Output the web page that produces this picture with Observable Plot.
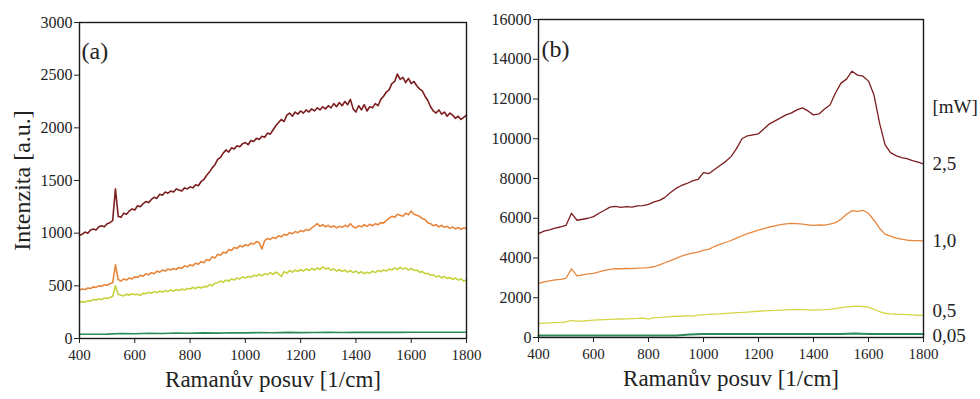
<!DOCTYPE html>
<html><head><meta charset="utf-8">
<script src="https://cdn.jsdelivr.net/npm/d3@7"></script>
<script src="https://cdn.jsdelivr.net/npm/@observablehq/plot@0.6"></script>
<style>
body{margin:0;background:#fff}
#wrap{display:flex;width:980px;height:399px;overflow:hidden}
</style>
</head><body><div id="wrap"></div>
<script>
// Raman shift sampling grids [1/cm]
const gridA = d3.range(400, 1801, 10);
const gridB = d3.range(400, 1801, 20);
const gridLow = d3.range(400, 1801, 50);

// Panel (a) intensities
const a25 = [980,990,1010,1000,1030,1040,1030,1060,1070,1060,
1090,1100,1120,1420,1160,1150,1190,1180,1210,1230,
1220,1260,1250,1280,1300,1290,1320,1340,1330,1370,
1360,1390,1380,1400,1390,1420,1410,1400,1430,1420,
1440,1430,1460,1450,1490,1510,1550,1580,1620,1650,
1700,1720,1760,1790,1770,1810,1800,1830,1820,1850,
1860,1840,1880,1870,1900,1890,1920,1910,1950,1940,
1980,2020,2050,2080,2060,2120,2140,2110,2150,2130,
2160,2140,2170,2150,2180,2160,2190,2170,2200,2180,
2210,2190,2230,2200,2240,2210,2250,2220,2270,2180,
2150,2210,2170,2220,2160,2200,2190,2230,2210,2270,
2300,2340,2360,2420,2440,2510,2460,2480,2430,2470,
2420,2440,2400,2370,2350,2300,2260,2200,2160,2140,
2170,2130,2150,2110,2140,2120,2090,2110,2080,2100,
2120];
const a10 = [460,470,465,480,475,490,485,500,495,510,
505,520,530,700,560,545,565,555,575,565,
585,580,600,590,615,605,625,615,640,630,
650,640,660,650,665,655,675,665,690,680,
700,690,715,705,730,720,750,740,775,765,
800,790,820,810,845,835,865,855,880,870,
890,880,905,895,920,910,850,930,950,940,
960,950,975,965,990,980,1005,995,1015,1005,
1025,1015,1035,1025,1050,1070,1090,1065,1080,1060,
1075,1055,1070,1050,1065,1055,1075,1060,1090,1060,
1050,1070,1060,1080,1065,1085,1070,1090,1080,1100,
1095,1120,1140,1160,1150,1180,1170,1160,1190,1175,
1210,1180,1170,1160,1140,1130,1100,1090,1070,1080,
1060,1075,1055,1065,1045,1060,1040,1055,1035,1050,
1045];
const a05 = [342,350,345,360,355,370,365,375,370,385,
380,390,400,500,420,410,405,420,410,425,
415,420,410,430,425,440,430,445,435,450,
440,455,445,460,450,465,455,470,460,475,
470,485,475,490,480,495,490,510,500,525,
530,545,535,555,545,565,555,575,565,585,
575,590,580,600,590,610,595,615,605,625,
610,630,615,590,635,620,645,630,650,635,
655,640,660,645,665,650,670,655,680,660,
670,650,660,640,655,635,650,630,645,625,
640,620,635,615,630,620,640,625,645,635,
650,640,660,650,670,655,675,660,670,650,
665,645,650,630,635,615,620,600,605,585,
595,575,590,570,580,560,575,555,565,545,
555];
const a005 = [40,40,42,48,45,50,48,52,50,53,51,55,53,56,55,58,56,57,58,57,59,58,60,58,60,59,60,60,60];

// Panel (b) intensities
const b25 = [5230,5350,5420,5500,5560,5640,6250,5900,5950,6000,
6080,6250,6400,6560,6600,6550,6580,6560,6620,6640,
6700,6820,6900,7050,7300,7500,7650,7750,7880,7950,
8300,8250,8450,8650,8850,9100,9500,10000,10150,10200,
10250,10500,10750,10900,11050,11200,11300,11450,11550,11400,
11200,11250,11500,11700,12300,12800,13000,13400,13200,13150,
12900,12200,10800,9700,9300,9150,9050,9000,8900,8820,
8740];
const b10 = [2720,2800,2850,2900,2920,2980,3450,3100,3150,3200,
3230,3300,3380,3430,3470,3460,3480,3470,3490,3500,
3520,3560,3650,3760,3870,3980,4100,4180,4250,4300,
4380,4450,4580,4680,4780,4880,5000,5120,5230,5320,
5400,5480,5560,5620,5680,5720,5740,5730,5700,5670,
5640,5660,5650,5700,5780,5950,6200,6380,6350,6400,
6250,5900,5500,5200,5100,5000,4950,4900,4880,4870,
4860];
const b05 = [700,720,740,750,760,780,860,820,830,850,
870,890,900,910,920,930,940,950,960,980,
930,1000,1010,1030,1050,1070,1080,1100,1080,1130,
1150,1160,1180,1190,1210,1230,1250,1260,1280,1300,
1320,1340,1350,1360,1380,1390,1400,1410,1400,1390,
1380,1390,1400,1420,1450,1500,1540,1560,1580,1560,
1530,1420,1300,1220,1190,1170,1160,1150,1140,1120,
1110];
const b005 = [100,100,100,100,100,100,100,100,100,100,100,150,180,180,180,180,180,180,180,180,180,180,180,200,180,180,180,180,180];

// Ticks and labels
const xTicks = [400,600,800,1000,1200,1400,1600,1800];
const yTicksA = [0,500,1000,1500,2000,2500,3000];
const yTicksB = [0,2000,4000,6000,8000,10000,12000,14000,16000];
const powerLabels = ["[mW]","2,5","1,0","0,5","0,05"];
const powerLabelY = [11620,8740,4880,1330,100];
const colors = ["#7c1d1f","#e8863c","#c4d23c","#2b8a58"];
const colorsB = ["#7c1d1f","#e8863c","#d3d647","#2b8a58"];

function rows(grid, vals){
  if (grid.length !== vals.length) throw new Error("length mismatch " + grid.length + " vs " + vals.length);
  return grid.map((x,i)=>({x, y: vals[i]}));
}

const font = "Liberation Serif, Times New Roman, serif";
const fmt = d3.format("d");

function panel({series, yDomain, yTicks, margins, tag, tagDx, tagDy, extra, cols, sw}){
  return Plot.plot({
    width: 490, height: 399,
    marginLeft: margins[0], marginRight: margins[1], marginTop: margins[2], marginBottom: margins[3],
    style: `font-family: ${font}; font-size: 15px; color: #222; background: #fff; overflow: visible;`,
    x: {domain: [400,1800], label: null},
    y: {domain: yDomain, label: null},
    marks: [
      ...series.map((s,i)=>Plot.line(s, {x:"x", y:"y", stroke: cols[i], strokeWidth: sw[i]})),
      Plot.frame({stroke:"#1a1a1a", strokeWidth:1.4}),
      Plot.axisX({ticks: xTicks, tickFormat: fmt, tickSize: 5, tickPadding: 6, label: null, fontSize: 15}),
      Plot.axisY({ticks: yTicks, tickFormat: fmt, tickSize: 5, tickPadding: 2, label: null, fontSize: 16}),
      Plot.text([tag], {frameAnchor:"top-left", textAnchor:"start", dx: tagDx, dy: tagDy, fontSize: 24}),
      Plot.text(["Ramanův posuv [1/cm]"], {frameAnchor:"bottom", textAnchor:"middle", dy: 48, fontSize: 23}),
      ...extra
    ]
  });
}

const left = panel({
  series: [rows(gridA,a25), rows(gridA,a10), rows(gridA,a05), rows(gridLow,a005)],
  yDomain: [0,3000], yTicks: yTicksA, margins: [79,24,22,61],
  tag: "(a)", tagDx: 2, tagDy: 19, cols: colors, sw: [1.6,1.6,1.6,1.6],
  extra: [Plot.text(["Intenzita [a.u.]"], {frameAnchor:"left", textAnchor:"middle", rotate:-90, dx:-57, fontSize: 24})]
});

const right = panel({
  series: [rows(gridB,b25), rows(gridB,b10), rows(gridB,b05), rows(gridLow,b005)],
  yDomain: [0,16000], yTicks: yTicksB, margins: [48,57,19,62],
  tag: "(b)", tagDx: 3, tagDy: 20, cols: colorsB, sw: [1.3,1.3,1.3,2],
  extra: [Plot.text(powerLabels.map((t,i)=>({t, y: powerLabelY[i]})), {x: ()=>1800, y:"y", text:"t", textAnchor:"start", dx: 9, fontSize: 19})]
});

document.getElementById("wrap").append(left, right);
</script>
</body></html>
